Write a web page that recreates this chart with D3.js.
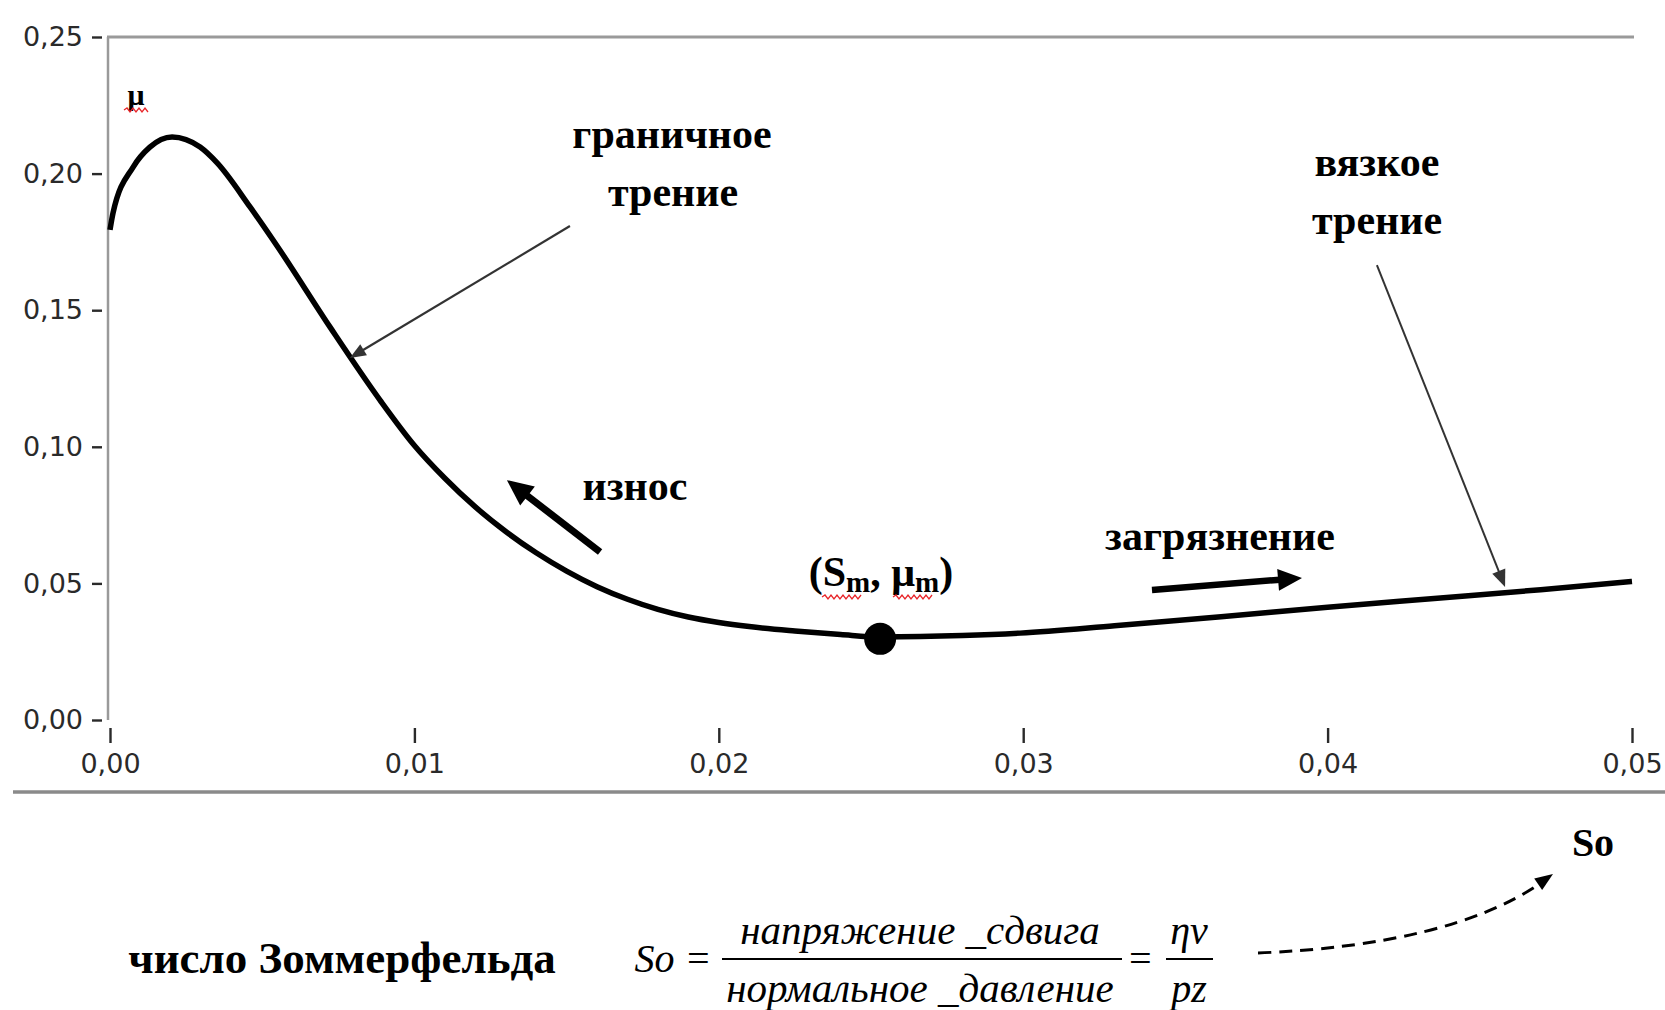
<!DOCTYPE html>
<html><head><meta charset="utf-8">
<script src="https://cdn.jsdelivr.net/npm/d3@7"></script>
<style>
html,body{margin:0;padding:0;background:#fff;}
svg{display:block;}
</style></head>
<body>
<svg id="chart" width="1665" height="1010"></svg>
<script>
// ---- data ----
const soValues = [0, 0.0001, 0.00076, 0.00131, 0.00204, 0.00296, 0.00352, 0.0046, 0.00549, 0.00723, 0.00887, 0.0100, 0.0110, 0.0120, 0.0130, 0.0140, 0.0150, 0.0160, 0.0170, 0.0180, 0.0190, 0.0200, 0.0210, 0.0225, 0.0240, 0.0253, 0.028, 0.0299, 0.033, 0.0365, 0.040, 0.0435, 0.047, 0.05];
const muValues = [0.1794, 0.1856, 0.2024, 0.2097, 0.2134, 0.2097, 0.2039, 0.1878, 0.1735, 0.1438, 0.1171, 0.1005, 0.0885, 0.0780, 0.0690, 0.0612, 0.0545, 0.0488, 0.0442, 0.0405, 0.0377, 0.0357, 0.0342, 0.0326, 0.0313, 0.0304, 0.0309, 0.0318, 0.0345, 0.0378, 0.0413, 0.0445, 0.0477, 0.0507];
const minPoint = [0.0253, 0.0297];
const xTicks = [0, 0.01, 0.02, 0.03, 0.04, 0.05];
const yTicks = [0, 0.05, 0.10, 0.15, 0.20, 0.25];

const svg = d3.select("#chart");
const x = d3.scaleLinear().domain([0, 0.05]).range([110, 1632]);
const y = d3.scaleLinear().domain([0, 0.25]).range([720, 37]);
const loc = d3.formatLocale({decimal: ",", thousands: " ", grouping: [3], currency: ["", ""]});
const fmt = loc.format(".2f");

// frame: top border + left axis line
svg.append("line").attr("x1", 107).attr("x2", x(0.05)+2).attr("y1", y(0.25)).attr("y2", y(0.25))
  .attr("stroke", "#9a9a9a").attr("stroke-width", 3);
svg.append("line").attr("x1", 108).attr("x2", 108).attr("y1", y(0.25)).attr("y2", y(0))
  .attr("stroke", "#9a9a9a").attr("stroke-width", 2.5);

// axes
const yAxis = svg.append("g").attr("transform", "translate(102,0)")
  .call(d3.axisLeft(y).tickValues(yTicks).tickFormat(fmt).tickSize(10).tickPadding(9));
const xAxis = svg.append("g").attr("transform", "translate(0,728)")
  .call(d3.axisBottom(x).tickValues(xTicks).tickFormat(fmt).tickSize(15).tickPadding(11));
[yAxis, xAxis].forEach(a => {
  a.select(".domain").remove();
  a.selectAll(".tick line").attr("stroke", "#2a2a2a").attr("stroke-width", 2.4);
  a.selectAll("text").attr("fill", "#2a2a2a").style("font-family", "'DejaVu Sans', Verdana, sans-serif").style("font-size", "27px");
});

// bottom separator
svg.append("line").attr("x1", 13).attr("x2", 1665).attr("y1", 792).attr("y2", 792)
  .attr("stroke", "#8a8a8a").attr("stroke-width", 3.5);

// curve
const pts = soValues.map((s, i) => [s, muValues[i]]);
svg.append("path").datum(pts)
  .attr("d", d3.line().x(d => x(d[0])).y(d => y(d[1])).curve(d3.curveMonotoneX))
  .attr("fill", "none").attr("stroke", "#000").attr("stroke-width", 5.5).attr("stroke-linejoin", "round");

svg.append("circle").attr("cx", x(minPoint[0])).attr("cy", y(minPoint[1])).attr("r", 16).attr("fill", "#000");

// helpers
function arrow(x1, y1, x2, y2, w, headLen, headW, color) {
  const ang = Math.atan2(y2 - y1, x2 - x1);
  const bx = x2 - headLen * Math.cos(ang), by = y2 - headLen * Math.sin(ang);
  svg.append("line").attr("x1", x1).attr("y1", y1).attr("x2", bx + 2*Math.cos(ang)).attr("y2", by + 2*Math.sin(ang))
    .attr("stroke", color).attr("stroke-width", w).attr("stroke-linecap", "butt");
  const px = -Math.sin(ang) * headW / 2, py = Math.cos(ang) * headW / 2;
  svg.append("path").attr("d", `M${x2},${y2}L${bx+px},${by+py}L${bx-px},${by-py}Z`).attr("fill", color);
}
function squiggle(x0, x1, yy) {
  let d = `M${x0},${yy}`; let up = true;
  for (let xx = x0 + 3; xx <= x1; xx += 3) { d += `L${xx},${yy + (up ? -2 : 2)}`; up = !up; }
  svg.append("path").attr("d", d).attr("fill", "none").attr("stroke", "#e8262a").attr("stroke-width", 1.3);
}
const serifB = "'Liberation Serif', 'Times New Roman', serif";

function label(tx, ty, txt, size, anchor) {
  return svg.append("text").attr("x", tx).attr("y", ty).attr("text-anchor", anchor || "middle")
    .attr("dominant-baseline", "central")
    .style("font-family", serifB).style("font-weight", "bold").style("font-size", size + "px").attr("fill", "#000").text(txt);
}

// annotations inside plot
label(136, 94, "μ", 30);
squiggle(124, 150, 110);

label(672, 134, "граничное", 42);
label(673, 192, "трение", 42);
arrow(x(0.01511), y(0.1808), x(0.00788), y(0.1325), 2.2, 16, 13, "#333");

label(1377, 162, "вязкое", 42);
label(1377, 220, "трение", 42);
arrow(x(0.04162), y(0.1665), x(0.04583), y(0.0487), 2, 17, 14, "#333");

label(635, 486, "износ", 42);
arrow(x(0.0161), y(0.0615), x(0.01304), y(0.0878), 7, 26, 24, "#000");

label(1220, 536, "загрязнение", 42);
arrow(x(0.03423), y(0.0476), x(0.03916), y(0.0520), 6.5, 24, 22, "#000");

// (Sm, μm)
const sm = svg.append("text").attr("x", 881).attr("y", 586).attr("text-anchor", "middle")
  .style("font-family", serifB).style("font-weight", "bold").style("font-size", "42px").attr("fill", "#000");
sm.append("tspan").text("(S");
sm.append("tspan").attr("dy", 6).style("font-size", "29px").text("m");
sm.append("tspan").attr("dy", -6).text(", μ");
sm.append("tspan").attr("dy", 6).style("font-size", "29px").text("m");
sm.append("tspan").attr("dy", -6).text(")");
squiggle(822, 862, 597);
squiggle(893, 933, 597);

// So label
label(1593, 842, "So", 40);

// bottom formula
label(342, 958, "число Зоммерфельда", 45);
const serifI = "'Liberation Serif', 'Times New Roman', serif";
function itext(tx, ty, txt, size, anchor) {
  return svg.append("text").attr("x", tx).attr("y", ty).attr("text-anchor", anchor || "middle")
    .attr("dominant-baseline", "central")
    .style("font-family", serifI).style("font-style", "italic").style("font-size", size + "px").attr("fill", "#000").text(txt);
}
itext(673, 958, "So =", 40);
itext(920, 930, "напряжение _сдвига", 41);
itext(920, 988, "нормальное _давление", 41);
svg.append("line").attr("x1", 722).attr("x2", 1122).attr("y1", 959).attr("y2", 959).attr("stroke", "#000").attr("stroke-width", 1.8);
itext(1140, 958, "=", 40);
itext(1189, 930, "ηv", 40);
itext(1189, 988, "pz", 40);
svg.append("line").attr("x1", 1166).attr("x2", 1213).attr("y1", 959).attr("y2", 959).attr("stroke", "#000").attr("stroke-width", 1.8);

// dashed curved arrow
const p0 = [1258, 953], c = [1450, 945], p1 = [1553, 874];
svg.append("path").attr("d", `M${p0[0]},${p0[1]}Q${c[0]},${c[1]} ${p1[0]-12},${p1[1]+9}`)
  .attr("fill", "none").attr("stroke", "#000").attr("stroke-width", 3).attr("stroke-dasharray", "13,8");
{
  const ang = Math.atan2(p1[1] - c[1], p1[0] - c[0]);
  const hl = 18, hw = 14;
  const bx = p1[0] - hl * Math.cos(ang), by = p1[1] - hl * Math.sin(ang);
  const px = -Math.sin(ang) * hw / 2, py = Math.cos(ang) * hw / 2;
  svg.append("path").attr("d", `M${p1[0]},${p1[1]}L${bx+px},${by+py}L${bx-px},${by-py}Z`).attr("fill", "#000");
}
</script>
</body></html>
